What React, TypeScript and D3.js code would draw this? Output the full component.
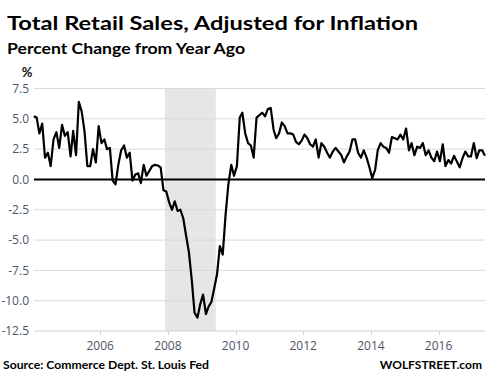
import * as d3 from "d3";

// Real retail sales, % change from year ago, monthly (Jan 2004 - May 2017)
const y2004 = [5.2, 5.1, 3.8, 4.6, 1.8, 2.2, 1.1, 3.3, 3.9, 2.6, 4.5, 3.6];
const y2005 = [3.9, 1.9, 4.0, 2.0, 6.4, 5.6, 4.0, 1.1, 1.1, 2.5, 1.4, 4.4];
const y2006 = [3.0, 3.3, 2.5, 2.6, -0.1, -0.4, 1.2, 2.4, 2.8, 1.8, 2.2, -0.1];
const y2007 = [0.4, 0.5, -0.3, 1.2, 0.3, 0.7, 1.1, 1.2, 1.15, 1.0, -0.9, -1.0];
const y2008 = [-1.9, -2.5, -1.8, -2.6, -2.5, -3.2, -4.6, -6.0, -8.3, -11.0, -11.4, -10.3];
const y2009 = [-9.5, -11.1, -10.5, -10.1, -9.0, -7.8, -5.5, -6.2, -2.9, -0.4, 1.2, 0.3];
const y2010 = [1.1, 5.1, 5.5, 3.8, 3.0, 2.8, 1.8, 5.1, 5.3, 5.5, 5.2, 5.8];
const y2011 = [5.9, 4.1, 3.4, 3.8, 4.7, 4.4, 3.8, 3.8, 3.7, 3.1, 2.9, 3.2];
const y2012 = [3.7, 3.4, 2.9, 2.7, 3.3, 1.8, 3.0, 2.7, 2.2, 1.8, 2.3, 2.6];
const y2013 = [2.3, 2.0, 1.4, 1.9, 2.3, 3.3, 3.3, 2.2, 1.8, 2.4, 1.8, 1.0];
const y2014 = [0.1, 0.8, 2.4, 3.0, 2.7, 2.6, 2.2, 3.5, 3.4, 3.3, 3.7, 3.3];
const y2015 = [4.2, 2.4, 3.0, 2.0, 2.7, 2.6, 3.0, 2.0, 2.4, 1.8, 1.5, 2.3];
const y2016 = [1.5, 2.9, 1.1, 1.6, 1.3, 1.95, 1.5, 1.0, 1.75, 2.3, 1.9, 1.9];
const y2017 = [3.0, 1.75, 2.4, 2.4, 1.95];

const monthly = [
  ...y2004, ...y2005, ...y2006, ...y2007, ...y2008, ...y2009, ...y2010,
  ...y2011, ...y2012, ...y2013, ...y2014, ...y2015, ...y2016, ...y2017,
];

const yTicks = [7.5, 5, 2.5, 0, -2.5, -5, -7.5, -10, -12.5];
const xTickYears = [2006, 2008, 2010, 2012, 2014, 2016];
const recession = [new Date(2007, 11, 1), new Date(2009, 5, 1)];

interface Point {
  date: Date;
  value: number;
}

const data: Point[] = monthly.map((v, i) => ({ date: new Date(2004, i, 15), value: v }));

function App() {
  const width = 488;
  const height = 387;
  const plotLeft = 34;
  const plotRight = 485;

  const x = d3.scaleTime()
    .domain([new Date(2004, 0, 1), new Date(2017, 5, 1)])
    .range([32.5, 486.5]);

  const y = d3.scaleLinear()
    .domain([-12.5, 7.5])
    .range([331, 88.5]);

  const line = d3.line<Point>()
    .x(d => x(d.date))
    .y(d => y(d.value));

  const tickFont = "'Open Sans', sans-serif";
  const titleFont = "Lato, 'Open Sans', sans-serif";

  return (
    <svg
      width={width}
      height={height}
      style={{ position: "absolute", left: 0, top: 0, background: "#fff" }}
    >
      {/* titles */}
      <text x={7} y={29.5} fontFamily={titleFont} fontWeight="bold" fontSize={18}
        textLength={411} lengthAdjust="spacingAndGlyphs" fill="#000">
        Total Retail Sales, Adjusted for Inflation
      </text>
      <text x={7} y={54.3} fontFamily={titleFont} fontWeight="bold" fontSize={16}
        textLength={238} lengthAdjust="spacingAndGlyphs" fill="#000">
        Percent Change from Year Ago
      </text>
      <text x={27} y={77} textAnchor="middle" fontFamily={titleFont} fontWeight="bold"
        fontSize={13} fill="#111">%</text>

      {/* recession shading */}
      <rect
        x={x(recession[0])}
        y={y(7.5)}
        width={x(recession[1]) - x(recession[0])}
        height={y(-12.5) - y(7.5)}
        fill="#e6e6e6"
      />

      {/* gridlines */}
      {yTicks.filter(t => t !== 0 && t !== -12.5).map(t => (
        <line key={t} x1={plotLeft} x2={plotRight} y1={y(t)} y2={y(t)}
          stroke="#d9d9d9" strokeWidth={1} />
      ))}
      <line x1={plotLeft} x2={plotRight} y1={y(-12.5)} y2={y(-12.5)}
        stroke="#c9d1dd" strokeWidth={1} />
      {xTickYears.map(yr => {
        const xx = Math.round(x(new Date(yr, 0, 1))) + 0.5;
        return (
          <line key={yr} x1={xx} x2={xx} y1={y(-12.5)} y2={y(-12.5) + 4}
            stroke="#c9d1dd" strokeWidth={1} />
        );
      })}

      {/* y labels */}
      {yTicks.map(t => (
        <text key={t} x={29} y={y(t)} dy="0.35em" textAnchor="end"
          fontFamily={tickFont} fontSize={12} fill="#4d5666">
          {t.toFixed(1)}
        </text>
      ))}

      {/* x labels */}
      {xTickYears.map(yr => (
        <text key={yr} x={x(new Date(yr, 0, 1))} y={349.5} textAnchor="middle"
          fontFamily={tickFont} fontSize={12} fill="#4d5666">
          {yr}
        </text>
      ))}

      {/* zero line */}
      <line x1={plotLeft} x2={plotRight} y1={y(0)} y2={y(0)} stroke="#000" strokeWidth={2} />

      {/* series */}
      <path d={line(data) ?? ""} fill="none" stroke="#000" strokeWidth={2.2}
        strokeLinejoin="round" />

      {/* footer */}
      <text x={3} y={368.5} fontFamily={titleFont} fontWeight="bold" fontSize={12}
        textLength={206} lengthAdjust="spacingAndGlyphs" fill="#000">
        Source: Commerce Dept. St. Louis Fed
      </text>
      <text x={482} y={368.5} textAnchor="end" fontFamily={titleFont} fontWeight="bold"
        fontSize={12} fill="#000">
        WOLFSTREET.com
      </text>
    </svg>
  );
}

export default App;
